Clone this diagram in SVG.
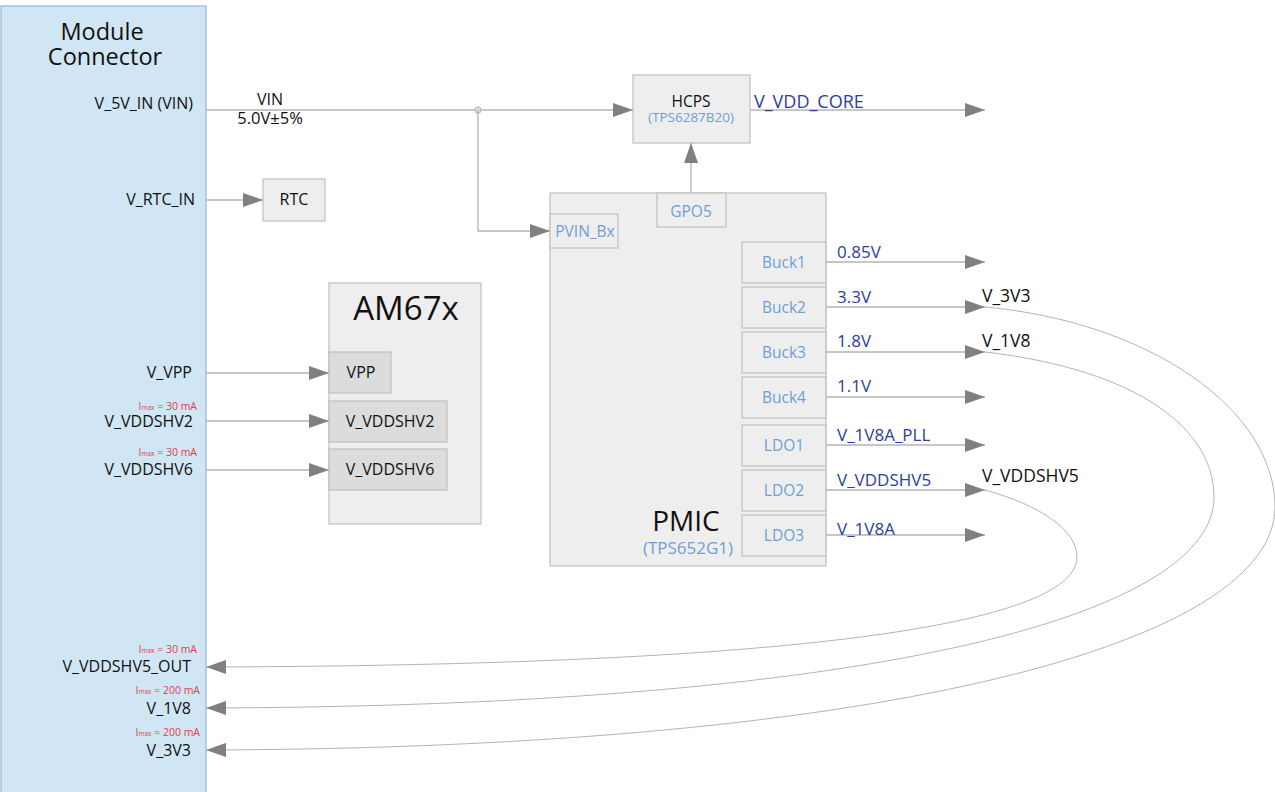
<svg xmlns="http://www.w3.org/2000/svg" width="1275" height="792" viewBox="0 0 1275 792">
<defs>
<marker id="ah" viewBox="0 0 20 14" refX="20" refY="7" markerWidth="20" markerHeight="14" markerUnits="userSpaceOnUse" orient="auto"><path d="M0,0 L20,7 L0,14 Z" fill="#808080"/></marker>
<style>
text{font-family:"Open Sans","Noto Sans","Liberation Sans",sans-serif;}
.blk{fill:#111;font-size:16px;}
.lbl{fill:#111;font-size:16px;text-anchor:end;}
.red{fill:#e0404a;font-size:10.5px;text-anchor:end;}
.sub{font-size:6.5px;}
.blu{fill:#6f9fd6;font-size:15.5px;text-anchor:middle;}
.dblu{fill:#2b409e;font-size:17px;}
.rt{fill:#111;font-size:17.5px;}
.box{fill:#eeeeee;stroke:#c0c0c0;stroke-width:1.2;}
.pin{fill:#dcdcdc;stroke:#c0c0c0;stroke-width:1.2;}
.ln{fill:none;stroke:#b4b4b4;stroke-width:1.3;}
.cv{fill:none;stroke:#b4b4b4;stroke-width:1;}
</style>
</defs>
<rect width="1275" height="792" fill="#ffffff"/>

<g id="module-connector">
<rect x="1" y="6" width="205" height="790" fill="#d0e6f4" stroke="#9cbbe0" stroke-width="1.3"/>
<text x="102" y="40" font-size="23.5" text-anchor="middle" fill="#111">Module</text>
<text x="105" y="65" font-size="23.5" text-anchor="middle" fill="#111">Connector</text>
<text class="lbl" x="193" y="109">V_5V_IN (VIN)</text>
<text class="lbl" x="195" y="205">V_RTC_IN</text>
<text class="lbl" x="192" y="378">V_VPP</text>
<text class="red" x="197" y="410">I<tspan class="sub">max</tspan> = 30 mA</text>
<text class="lbl" x="193" y="427">V_VDDSHV2</text>
<text class="red" x="197" y="456">I<tspan class="sub">max</tspan> = 30 mA</text>
<text class="lbl" x="193" y="475">V_VDDSHV6</text>
<text class="red" x="197" y="653">I<tspan class="sub">max</tspan> = 30 mA</text>
<text class="lbl" x="191" y="672">V_VDDSHV5_OUT</text>
<text class="red" x="200" y="694">I<tspan class="sub">max</tspan> = 200 mA</text>
<text class="lbl" x="191" y="714">V_1V8</text>
<text class="red" x="200" y="736">I<tspan class="sub">max</tspan> = 200 mA</text>
<text class="lbl" x="191" y="756">V_3V3</text>
</g>

<g id="rtc">
<rect class="box" x="263" y="179" width="62" height="42"/>
<text class="blk" x="294" y="205" text-anchor="middle">RTC</text>
</g>

<g id="am67x">
<rect class="box" x="329" y="283" width="152" height="241"/>
<text x="406" y="320" font-size="33" text-anchor="middle" fill="#111">AM67x</text>
<rect class="pin" x="329" y="352" width="62" height="41"/>
<text class="blk" x="361" y="378" text-anchor="middle">VPP</text>
<rect class="pin" x="329" y="401" width="118" height="41"/>
<text class="blk" x="390" y="427" text-anchor="middle">V_VDDSHV2</text>
<rect class="pin" x="329" y="449" width="118" height="41"/>
<text class="blk" x="390" y="475" text-anchor="middle">V_VDDSHV6</text>
</g>

<g id="hcps">
<rect class="box" x="633" y="75" width="117" height="68"/>
<text class="blk" x="691" y="107" text-anchor="middle" style="font-size:15.5px">HCPS</text>
<text class="blu" x="691" y="122" style="font-size:13.5px">(TPS6287B20)</text>
</g>

<g id="pmic">
<rect class="box" x="550" y="193" width="276" height="373"/>
<rect class="box" x="550" y="214" width="68" height="34"/>
<text class="blu" x="585" y="237">PVIN_Bx</text>
<rect class="box" x="657" y="193" width="69" height="34"/>
<text class="blu" x="691" y="217">GPO5</text>
<text x="686" y="531" font-size="28" text-anchor="middle" fill="#111">PMIC</text>
<text class="blu" x="688" y="554" style="font-size:17px">(TPS652G1)</text>
<rect class="box" x="742" y="242" width="84" height="41"/>
<text class="blu" x="784" y="268">Buck1</text>
<rect class="box" x="742" y="287" width="84" height="41"/>
<text class="blu" x="784" y="313">Buck2</text>
<rect class="box" x="742" y="332" width="84" height="41"/>
<text class="blu" x="784" y="358">Buck3</text>
<rect class="box" x="742" y="377" width="84" height="41"/>
<text class="blu" x="784" y="403">Buck4</text>
<rect class="box" x="742" y="425" width="84" height="41"/>
<text class="blu" x="784" y="451">LDO1</text>
<rect class="box" x="742" y="470" width="84" height="41"/>
<text class="blu" x="784" y="496">LDO2</text>
<rect class="box" x="742" y="515" width="84" height="41"/>
<text class="blu" x="784" y="541">LDO3</text>
</g>

<g id="connectors">
<line class="ln" x1="206" y1="110" x2="633" y2="110" marker-end="url(#ah)"/>
<circle cx="478" cy="110" r="3.2" fill="#dddddd" stroke="#b4b4b4" stroke-width="1"/>
<polyline class="ln" points="478,110 478,231 550,231" marker-end="url(#ah)"/>
<line class="ln" x1="206" y1="200" x2="263" y2="200" marker-end="url(#ah)"/>
<line class="ln" x1="206" y1="373" x2="329" y2="373" marker-end="url(#ah)"/>
<line class="ln" x1="206" y1="421" x2="329" y2="421" marker-end="url(#ah)"/>
<line class="ln" x1="206" y1="470" x2="329" y2="470" marker-end="url(#ah)"/>
<line class="ln" x1="691" y1="193" x2="691" y2="143" marker-end="url(#ah)"/>
<line class="ln" x1="750" y1="110" x2="985" y2="110" marker-end="url(#ah)"/>
<line class="ln" x1="826" y1="262" x2="985" y2="262" marker-end="url(#ah)"/>
<line class="ln" x1="826" y1="307" x2="985" y2="307" marker-end="url(#ah)"/>
<line class="ln" x1="826" y1="352" x2="985" y2="352" marker-end="url(#ah)"/>
<line class="ln" x1="826" y1="397" x2="985" y2="397" marker-end="url(#ah)"/>
<line class="ln" x1="826" y1="445" x2="985" y2="445" marker-end="url(#ah)"/>
<line class="ln" x1="826" y1="490" x2="985" y2="490" marker-end="url(#ah)"/>
<line class="ln" x1="826" y1="535" x2="985" y2="535" marker-end="url(#ah)"/>
<path class="cv" d="M985,307 C1150,322 1275,410 1275,507 C1275,640 900,748 206,750" marker-end="url(#ah)"/>
<path class="cv" d="M985,352 C1140,370 1214,430 1214,497 C1214,610 900,706 206,708" marker-end="url(#ah)"/>
<path class="cv" d="M985,490 C1040,505 1077,530 1077,557 C1077,610 900,665 206,667" marker-end="url(#ah)"/>
</g>

<g id="labels">
<text class="blk" x="270" y="105" text-anchor="middle">VIN</text>
<text class="blk" x="270" y="124" text-anchor="middle" style="font-size:16.5px">5.0V±5%</text>
<text class="dblu" x="754" y="108" style="font-size:18px">V_VDD_CORE</text>
<text class="dblu" x="837" y="258">0.85V</text>
<text class="dblu" x="837" y="303">3.3V</text>
<text class="dblu" x="837" y="347">1.8V</text>
<text class="dblu" x="837" y="392">1.1V</text>
<text class="dblu" x="837" y="441">V_1V8A_PLL</text>
<text class="dblu" x="837" y="486">V_VDDSHV5</text>
<text class="dblu" x="837" y="535">V_1V8A</text>
<text class="rt" x="982" y="302">V_3V3</text>
<text class="rt" x="982" y="347">V_1V8</text>
<text class="rt" x="982" y="482">V_VDDSHV5</text>
</g>
</svg>
